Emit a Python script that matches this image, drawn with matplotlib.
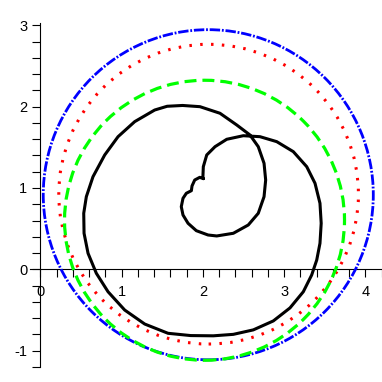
import numpy as np
import matplotlib
matplotlib.use("Agg")
import matplotlib.pyplot as plt
from matplotlib.patches import Circle

plt.rcParams['lines.scale_dashes'] = False
plt.rcParams['font.family'] = ['Liberation Sans', 'DejaVu Sans']

# circles: centre x, centre y, radius
circle_names = ["blue", "red", "green"]
circle_cx = [2.066, 2.070, 2.020]
circle_cy = [0.917, 0.924, 0.603]
circle_r = [2.030, 1.843, 1.722]

# black curve
curve_x = [2.005, 1.961, 1.899, 1.866, 1.858, 1.796, 1.755, 1.734, 1.755, 1.817,
           1.919, 2.063, 2.170, 2.374, 2.558, 2.681, 2.752, 2.772, 2.752, 2.681,
           2.579, 2.416, 2.210, 1.964, 1.750, 1.560, 1.407, 1.161, 0.956, 0.792,
           0.648, 0.566, 0.534, 0.538, 0.587, 0.689, 0.833, 1.038, 1.284, 1.571,
           1.850, 2.128, 2.374, 2.620, 2.866, 3.071, 3.235, 3.338, 3.400, 3.440,
           3.455, 3.440, 3.379, 3.277, 3.112, 2.908, 2.702, 2.497, 2.293, 2.149,
           2.047, 2.005, 2.000, 2.005]
curve_y = [1.115, 1.131, 1.098, 1.025, 0.967, 0.935, 0.873, 0.770, 0.668, 0.566,
           0.475, 0.422, 0.410, 0.443, 0.545, 0.689, 0.893, 1.098, 1.304, 1.508,
           1.652, 1.775, 1.919, 2.000, 2.015, 2.005, 1.959, 1.816, 1.631, 1.406,
           1.139, 0.893, 0.689, 0.443, 0.197, -0.049, -0.276, -0.501, -0.673, -0.787,
           -0.815, -0.818, -0.800, -0.745, -0.635, -0.475, -0.276, -0.070, 0.114, 0.320,
           0.566, 0.812, 1.058, 1.262, 1.447, 1.570, 1.631, 1.643, 1.599, 1.508,
           1.406, 1.262, 1.139, 1.115]

x_major = [0, 1, 2, 3, 4]
y_major = [-1, 0, 1, 2, 3]
x_labels = ["0", "1", "2", "3", "4"]
y_labels = ["-1", "0", "1", "2", "3"]

fig = plt.figure(figsize=(3.82, 3.82), dpi=100)
ax = fig.add_axes([0, 0, 1, 1])
ax.set_xlim(-0.496, 4.203)
ax.set_ylim(-1.386, 3.312)

styles = [
    dict(color="#0000FF", lw=2.0, ls=(0, (7.5, 1.3, 1.3, 1.3))),
    dict(color="#FF0000", lw=2.2, ls=(0, (1.8, 6.0))),
    dict(color="#00FF00", lw=2.3, ls=(0, (8.6, 4.3))),
]
for cx, cy, r, st in zip(circle_cx, circle_cy, circle_r, styles):
    ax.add_patch(Circle((cx, cy), r, fill=False, edgecolor=st["color"],
                        linewidth=st["lw"], linestyle=st["ls"], zorder=2))

ax.plot(curve_x, curve_y, color="black", lw=2.2, zorder=3,
        solid_joinstyle="round", solid_capstyle="round")

for s in ["top", "right"]:
    ax.spines[s].set_visible(False)
ax.spines["left"].set_position(("data", 0))
ax.spines["bottom"].set_position(("data", 0))
ax.spines["left"].set_bounds(-1.2, 3.03)
ax.spines["bottom"].set_bounds(-0.13, 4.2)
for s in ["left", "bottom"]:
    ax.spines[s].set_linewidth(0.8)
    ax.spines[s].set_zorder(1)

ax.set_xticks(x_major)
ax.set_xticklabels(x_labels)
ax.set_yticks(y_major)
ax.set_yticklabels(y_labels)
xminor = [round(v, 1) for v in np.arange(0.2, 4.21, 0.2) if abs(v - round(v)) > 1e-6]
yminor = [round(v, 1) for v in np.arange(-1.2, 2.81, 0.2) if abs(v - round(v)) > 1e-6]
ax.set_xticks(xminor, minor=True)
ax.set_yticks(yminor, minor=True)
ax.tick_params(which="both", direction="out", length=5.8, width=0.8, color="black")
ax.tick_params(axis="x", which="major", pad=5.5, labelsize=10.5)
ax.tick_params(axis="y", which="major", pad=3.5, labelsize=10.5)

fig.savefig("out.png", dpi=100)
